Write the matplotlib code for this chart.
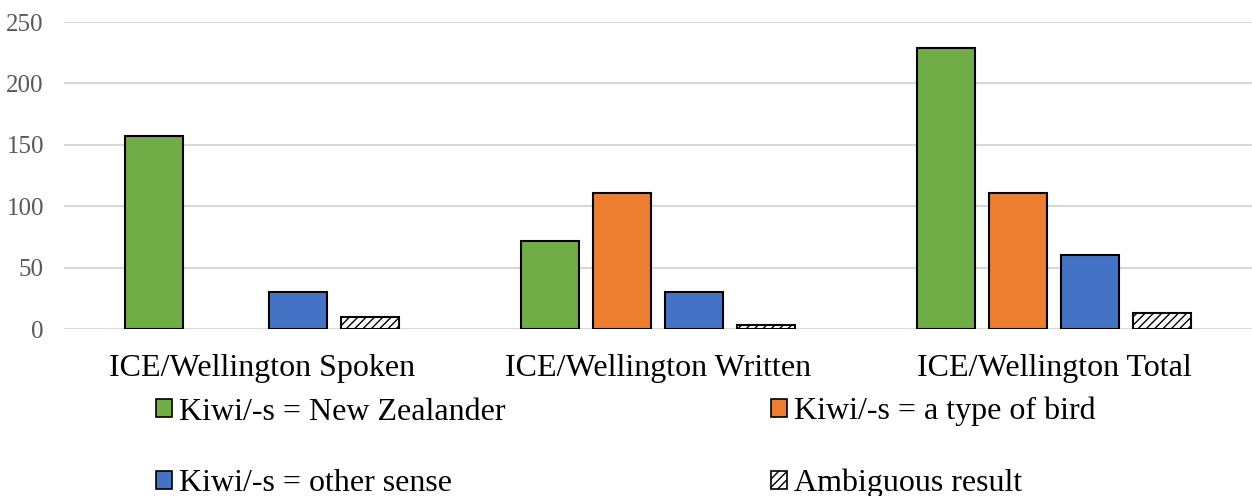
import matplotlib
matplotlib.use("Agg")
import matplotlib.pyplot as plt
from matplotlib.patches import Patch
import numpy as np

plt.rcParams['font.family'] = ['Liberation Serif', 'DejaVu Serif']
plt.rcParams['hatch.linewidth'] = 1.0

categories = ["ICE/Wellington Spoken", "ICE/Wellington Written", "ICE/Wellington Total"]
series_names = ["Kiwi/-s = New Zealander", "Kiwi/-s = a type of bird",
                "Kiwi/-s = other sense", "Ambiguous result"]
new_zealander = [157, 72, 229]
type_of_bird = [0, 111, 111]
other_sense = [30, 30, 60]
ambiguous = [10, 3, 13]
y_ticks = [0, 50, 100, 150, 200, 250]

series_values = [new_zealander, type_of_bird, other_sense, ambiguous]
colors = ["#70AD47", "#ED7D31", "#4472C4", "white"]
hatches = [None, None, None, "////"]

fig = plt.figure(figsize=(12.52, 4.96), dpi=100)
ax = fig.add_axes([64 / 1252, (496 - 329) / 496, 1 - 64 / 1252, (329 - 22) / 496])

x = np.arange(len(categories))
step = 0.1818
width = 0.144
offsets = (np.arange(4) - 1.5) * step

handles = []
for i, (vals, c, h, name) in enumerate(zip(series_values, colors, hatches, series_names)):
    vals = np.array(vals, dtype=float)
    # skip zero-height bars so no outline is drawn on the baseline
    mask = vals > 0
    ax.bar(x[mask] + offsets[i], vals[mask], width=width, color=c,
           edgecolor="black", linewidth=1.5, hatch=h, zorder=3)
    handles.append(Patch(facecolor=c, edgecolor="black", linewidth=1.2, hatch=h, label=name))

ax.set_xlim(-0.5, 2.5)
ax.set_ylim(0, 250)
ax.set_yticks(y_ticks)
ax.yaxis.grid(True, color="#D9D9D9", linewidth=1.5, zorder=0)
ax.set_axisbelow(True)
for s in ax.spines.values():
    s.set_visible(False)
ax.tick_params(axis="y", length=0, labelsize=18, labelcolor="#595959", pad=14.5)
ax.tick_params(axis="x", length=0, labelsize=23, pad=18)
ax.set_xticks(x)
ax.set_xticklabels(categories)

order = [0, 2, 1, 3]
fig.legend([handles[i] for i in order], [series_names[i] for i in order],
           loc="upper left", bbox_to_anchor=(156 / 1252, 1 - 397 / 496),
           ncol=2, frameon=False, fontsize=23,
           handlelength=0.5, handleheight=0.5, handletextpad=0.22,
           labelspacing=1.33, columnspacing=8.3, borderaxespad=0, borderpad=0)

fig.savefig("out.png", dpi=100)
